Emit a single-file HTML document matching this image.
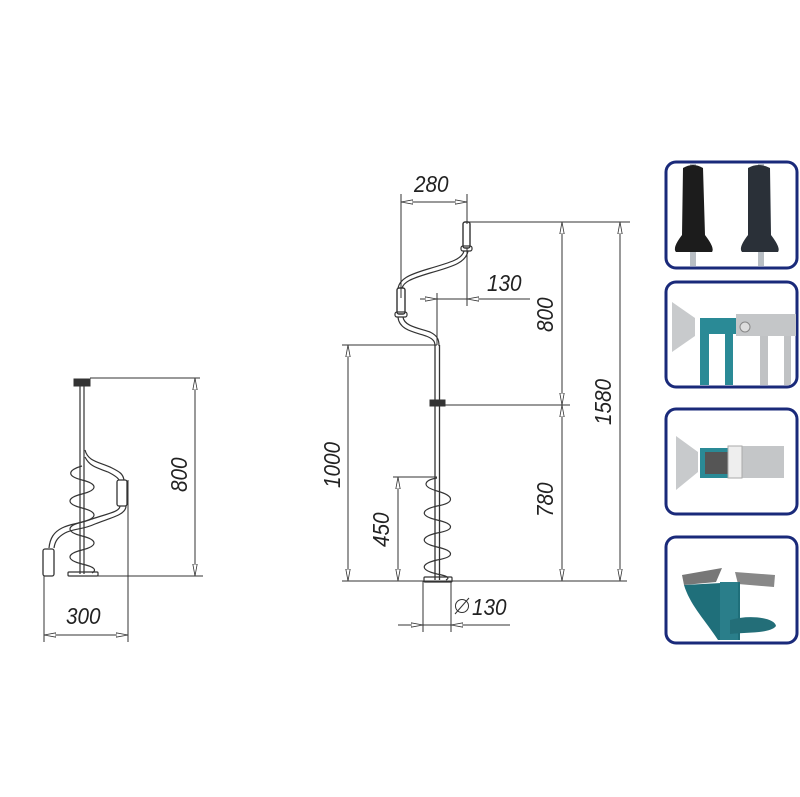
<!DOCTYPE html>
<html><head><meta charset="utf-8"><style>
html,body{margin:0;padding:0;background:#fff;}
svg{display:block;}
text{font-family:"Liberation Sans",sans-serif;font-style:italic;font-size:23px;fill:#222;}
</style></head><body>
<svg width="800" height="797" viewBox="0 0 800 797" xmlns="http://www.w3.org/2000/svg">
<defs>
<marker id="a" viewBox="0 0 12 6" refX="12" refY="3" markerWidth="12" markerHeight="6" orient="auto-start-reverse" markerUnits="userSpaceOnUse">
<path d="M12,3 L0,0.8 L0,5.2 Z" fill="#fff" stroke="#333" stroke-width="0.8"/>
</marker>
</defs>
<g stroke="#333" stroke-width="1" fill="none">
<line x1="401" y1="194" x2="401" y2="298"/>
<line x1="467" y1="194" x2="467" y2="224"/>
<line x1="467" y1="248" x2="467" y2="306"/>
<line x1="401" y1="202" x2="467" y2="202" marker-start="url(#a)" marker-end="url(#a)"/>
<line x1="467" y1="222" x2="630" y2="222"/>
<rect x="463" y="222" width="7" height="26" rx="2" stroke-width="1.4"/>
<rect x="461" y="246" width="11" height="5" rx="2" stroke-width="1.2"/>
<path d="M468,251 C466,262 455,266 430,273 C410,279 404,282 402,288" stroke-width="1.2"/>
<path d="M464,251 C462,259 452,262 428,269 C408,275 400,279 398,288" stroke-width="1.2"/>
<rect x="397" y="288" width="8" height="26" rx="2" stroke-width="1.4"/>
<rect x="395" y="312" width="12" height="5" rx="2" stroke-width="1.2"/>
<path d="M403,317 C404,326 418,328 430,332 C438,336 439,340 439,346" stroke-width="1.2"/>
<path d="M398,317 C399,330 414,332 426,336 C434,339 435,342 435,346" stroke-width="1.2"/>
<line x1="437" y1="293" x2="437" y2="345"/>
<line x1="420" y1="299" x2="530" y2="299"/>
<line x1="422" y1="299" x2="437" y2="299" marker-end="url(#a)"/>
<line x1="482" y1="299" x2="467" y2="299" marker-end="url(#a)"/>
<line x1="435" y1="345" x2="435" y2="580" stroke-width="1.3"/>
<line x1="439.5" y1="345" x2="439.5" y2="580" stroke-width="1.3"/>
<rect x="430" y="400" width="15" height="6" fill="#333"/>
<line x1="445" y1="405" x2="570" y2="405"/>
<line x1="562" y1="222" x2="562" y2="405" marker-start="url(#a)" marker-end="url(#a)"/>
<line x1="562" y1="405" x2="562" y2="581" marker-start="url(#a)" marker-end="url(#a)"/>
<line x1="620" y1="222" x2="620" y2="581" marker-start="url(#a)" marker-end="url(#a)"/>
<line x1="342" y1="345" x2="437" y2="345"/>
<line x1="348" y1="345" x2="348" y2="581" marker-start="url(#a)" marker-end="url(#a)"/>
<line x1="393" y1="477" x2="437" y2="477"/>
<line x1="398" y1="477" x2="398" y2="581" marker-start="url(#a)" marker-end="url(#a)"/>
<path d="M437,478 C425,480 420,486 437,491 C455,496 455,503 437,506 C420,510 420,516 437,520 C455,524 455,530 437,533 C420,537 420,543 437,547 C455,551 455,557 437,560 C420,564 420,570 437,574 C448,576 450,578 446,580" stroke-width="1.2"/>
<rect x="424" y="577" width="28" height="5" rx="1" stroke-width="1.2"/>
<line x1="342" y1="581" x2="627" y2="581"/>
<line x1="423" y1="581" x2="423" y2="632"/>
<line x1="451" y1="581" x2="451" y2="632"/>
<line x1="398" y1="625" x2="510" y2="625"/>
<line x1="406" y1="625" x2="423" y2="625" marker-end="url(#a)"/>
<line x1="468" y1="625" x2="451" y2="625" marker-end="url(#a)"/>
<circle cx="462" cy="606" r="6.5"/>
<line x1="455" y1="614" x2="469" y2="598"/>

<line x1="80" y1="380" x2="80" y2="574" stroke-width="1.2"/>
<line x1="84" y1="380" x2="84" y2="574" stroke-width="1.2"/>
<rect x="74" y="379" width="16" height="7" fill="#333"/>
<line x1="90" y1="378" x2="200" y2="378"/>
<line x1="195" y1="378" x2="195" y2="576" marker-start="url(#a)" marker-end="url(#a)"/>
<line x1="82" y1="576" x2="203" y2="576"/>
<path d="M85,450 C88,462 100,462 112,468 C120,472 123,474 124,480" stroke-width="1.2"/>
<path d="M85,457 C90,467 98,468 108,472 C116,476 118,478 119,480" stroke-width="1.2"/>
<rect x="117" y="480" width="10" height="26" rx="2" stroke-width="1.3"/>
<path d="M126,506 C126,515 110,518 95,524 C82,530 75,528 65,533 C58,537 55,541 54,548" stroke-width="1.2"/>
<path d="M120,506 C120,512 106,514 92,519 C80,524 72,523 62,528 C54,532 50,538 49,548" stroke-width="1.2"/>
<rect x="43" y="549" width="11" height="27" rx="2" stroke-width="1.3"/>
<path d="M82,466 C68,470 66,476 82,480 C98,484 98,490 82,494 C66,498 66,504 82,508 C98,512 98,518 82,522 C66,526 66,532 82,536 C98,540 98,546 82,550 C66,554 66,560 82,564 C95,567 97,570 92,573" stroke-width="1.2"/>
<rect x="68" y="572" width="30" height="4" rx="1" stroke-width="1.2"/>
<line x1="44" y1="576" x2="44" y2="642"/>
<line x1="128" y1="480" x2="128" y2="642"/>
<line x1="44" y1="635" x2="128" y2="635" marker-start="url(#a)" marker-end="url(#a)"/>
</g>
<text transform="translate(414 192) scale(0.9 1)">280</text>
<text transform="translate(487 291) scale(0.9 1)">130</text>
<text transform="translate(553 332) rotate(-90) scale(0.9 1)">800</text>
<text transform="translate(553 517) rotate(-90) scale(0.9 1)">780</text>
<text transform="translate(611 425) rotate(-90) scale(0.9 1)">1580</text>
<text transform="translate(340 488) rotate(-90) scale(0.9 1)">1000</text>
<text transform="translate(389 547) rotate(-90) scale(0.9 1)">450</text>
<text transform="translate(472 615) scale(0.9 1)">130</text>
<text transform="translate(187 492) rotate(-90) scale(0.9 1)">800</text>
<text transform="translate(66 624) scale(0.9 1)">300</text>

<g>
<rect x="666" y="162" width="131" height="106" rx="10" fill="#fff" stroke="#1a2a7a" stroke-width="3"/>
<rect x="690" y="164" width="6" height="102" fill="#b8bec4"/>
<rect x="758" y="164" width="6" height="102" fill="#b8bec4"/>
<path d="M683,168 Q693,162 703,168 L705,235 Q715,248 712,252 L676,252 Q672,248 682,235 Z" fill="#1c1c1c"/>
<path d="M748,168 Q758,162 770,168 L771,235 Q781,248 778,252 L742,252 Q738,248 748,235 Z" fill="#2a3038"/>

<rect x="666" y="282" width="131" height="105" rx="10" fill="#fff" stroke="#1a2a7a" stroke-width="3"/>
<rect x="700" y="318" width="38" height="16" fill="#2a8a96"/>
<rect x="700" y="334" width="9" height="51" fill="#2a8a96"/>
<rect x="725" y="334" width="8" height="51" fill="#2a8a96"/>
<rect x="736" y="314" width="60" height="22" fill="#c4c6c8"/>
<rect x="760" y="336" width="8" height="49" fill="#c0c2c4"/>
<rect x="784" y="336" width="7" height="49" fill="#c0c2c4"/>
<circle cx="745" cy="327" r="5" fill="#ddd" stroke="#888"/>
<path d="M672,302 L695,318 L695,336 L672,352 Z" fill="#c8cacc"/>

<rect x="666" y="409" width="131" height="105" rx="10" fill="#fff" stroke="#1a2a7a" stroke-width="3"/>
<rect x="700" y="448" width="40" height="30" fill="#2a8a96"/>
<rect x="705" y="452" width="32" height="22" fill="#555"/>
<rect x="738" y="446" width="46" height="32" fill="#c4c6c8"/>
<rect x="728" y="446" width="14" height="32" fill="#eee" stroke="#aaa"/>
<path d="M676,436 L698,452 L698,472 L676,490 Z" fill="#c8cacc"/>

<rect x="666" y="537" width="131" height="106" rx="10" fill="#fff" stroke="#1a2a7a" stroke-width="3"/>
<path d="M682,575 L722,568 L716,582 L684,585 Z" fill="#777"/>
<path d="M735,572 L775,575 L774,587 L738,584 Z" fill="#888"/>
<path d="M684,585 L740,582 L740,640 L718,640 C705,620 690,605 684,585 Z" fill="#1f6f7a"/>
<rect x="720" y="582" width="18" height="58" fill="#2a7e8a"/>
<path d="M730,620 C750,614 775,618 776,626 C770,634 745,632 730,634 Z" fill="#236e78"/>
</g>
</svg>
</body></html>
